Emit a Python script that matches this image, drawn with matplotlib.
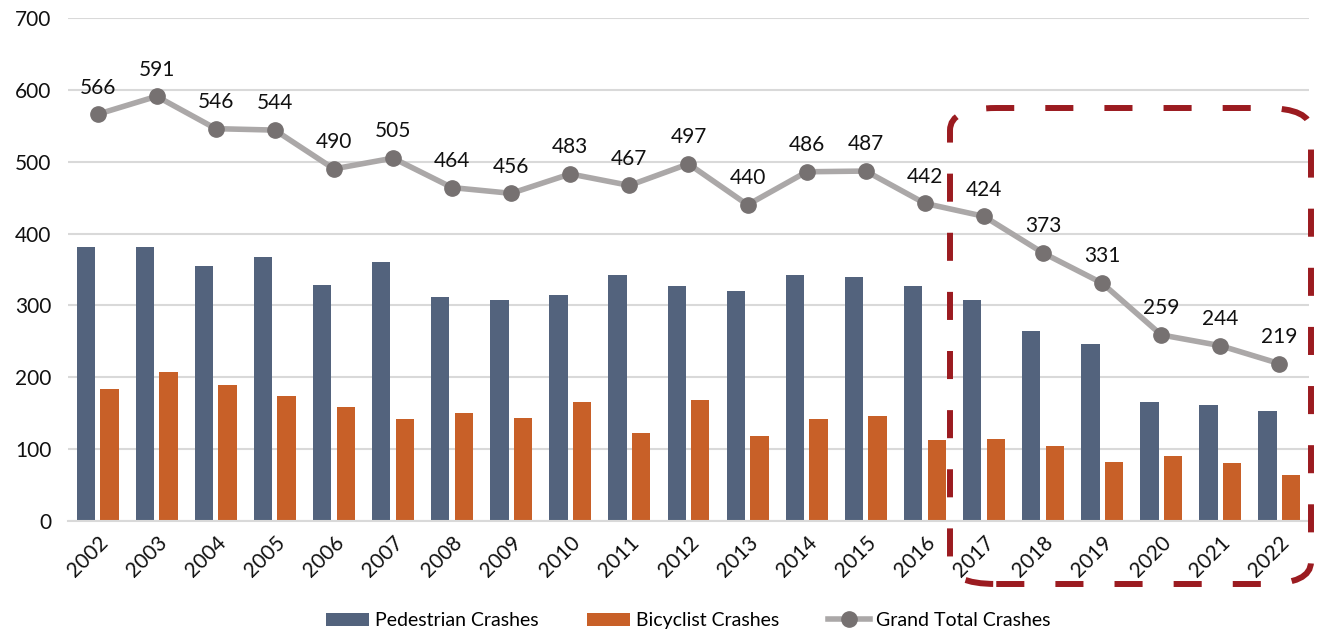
import numpy as np
import matplotlib.pyplot as plt
from matplotlib.patches import FancyBboxPatch

years = [str(y) for y in range(2002, 2023)]
pedestrian = [381, 381, 355, 368, 328, 361, 312, 308, 314, 342, 327, 320, 342, 339, 327,
              308, 265, 247, 165, 161, 153]
bicyclist = [184, 208, 189, 174, 159, 142, 150, 144, 166, 123, 168, 118, 142, 146, 113,
             114, 105, 82, 91, 81, 64]
grand_total = [566, 591, 546, 544, 490, 505, 464, 456, 483, 467, 497, 440, 486, 487, 442,
               424, 373, 331, 259, 244, 219]

plt.rcParams['font.family'] = ['Lato', 'DejaVu Sans']

fig = plt.figure(figsize=(13.22, 6.35), dpi=100)
ax = fig.add_axes([68 / 1322, 1 - 521 / 635, (1309 - 68) / 1322, (521 - 18) / 635])

x = np.arange(len(years))
w = 0.31
b1 = ax.bar(x - 0.2, pedestrian, w, color='#53637D', label='Pedestrian Crashes', zorder=2)
b2 = ax.bar(x + 0.2, bicyclist, w, color='#C86028', label='Bicyclist Crashes', zorder=2)
ln, = ax.plot(x, grand_total, color='#ABA8A8', lw=4, marker='o', markersize=11,
              markerfacecolor='#767171', markeredgecolor='#767171',
              label='Grand Total Crashes', zorder=3)

for xi, v in zip(x, grand_total):
    ax.annotate(str(v), (xi, v), xytext=(0, 12), textcoords='offset points',
                ha='center', va='bottom', fontsize=15, color='#111111')

ax.set_ylim(0, 700)
ax.set_xlim(-0.5, len(years) - 0.5)
ax.set_yticks(range(0, 701, 100))
ax.set_xticks(x)
ax.set_xticklabels(years, rotation=45, ha='right', rotation_mode='anchor')
ax.tick_params(axis='both', length=0, labelsize=15, colors='#111111')
ax.tick_params(axis='x', pad=8)
ax.tick_params(axis='y', pad=12)
ax.grid(axis='y', color='#D9D9D9', lw=1.5, zorder=0)
for s in ['top', 'right', 'left']:
    ax.spines[s].set_visible(False)
ax.spines['bottom'].set_color('#D9D9D9')
ax.spines['bottom'].set_linewidth(1.5)

# highlighted recent years
box = FancyBboxPatch((950 / 1322, 1 - 584 / 635), (1311 - 950) / 1322, (584 - 108) / 635,
                     boxstyle='round,pad=0,rounding_size=0.035', transform=fig.transFigure,
                     fill=False, edgecolor='#9B1B20', lw=4.3, linestyle=(0, (4.7, 5.2)),
                     capstyle='butt', zorder=5)
fig.patches.append(box)

ax.legend([b1, b2, ln], ['Pedestrian Crashes', 'Bicyclist Crashes', 'Grand Total Crashes'],
          loc='lower center', bbox_to_anchor=(0.5, -0.25), ncol=3, frameon=False,
          fontsize=14, handlelength=2.2, columnspacing=2.5, handletextpad=0.3)

fig.savefig('out.png', dpi=100)
